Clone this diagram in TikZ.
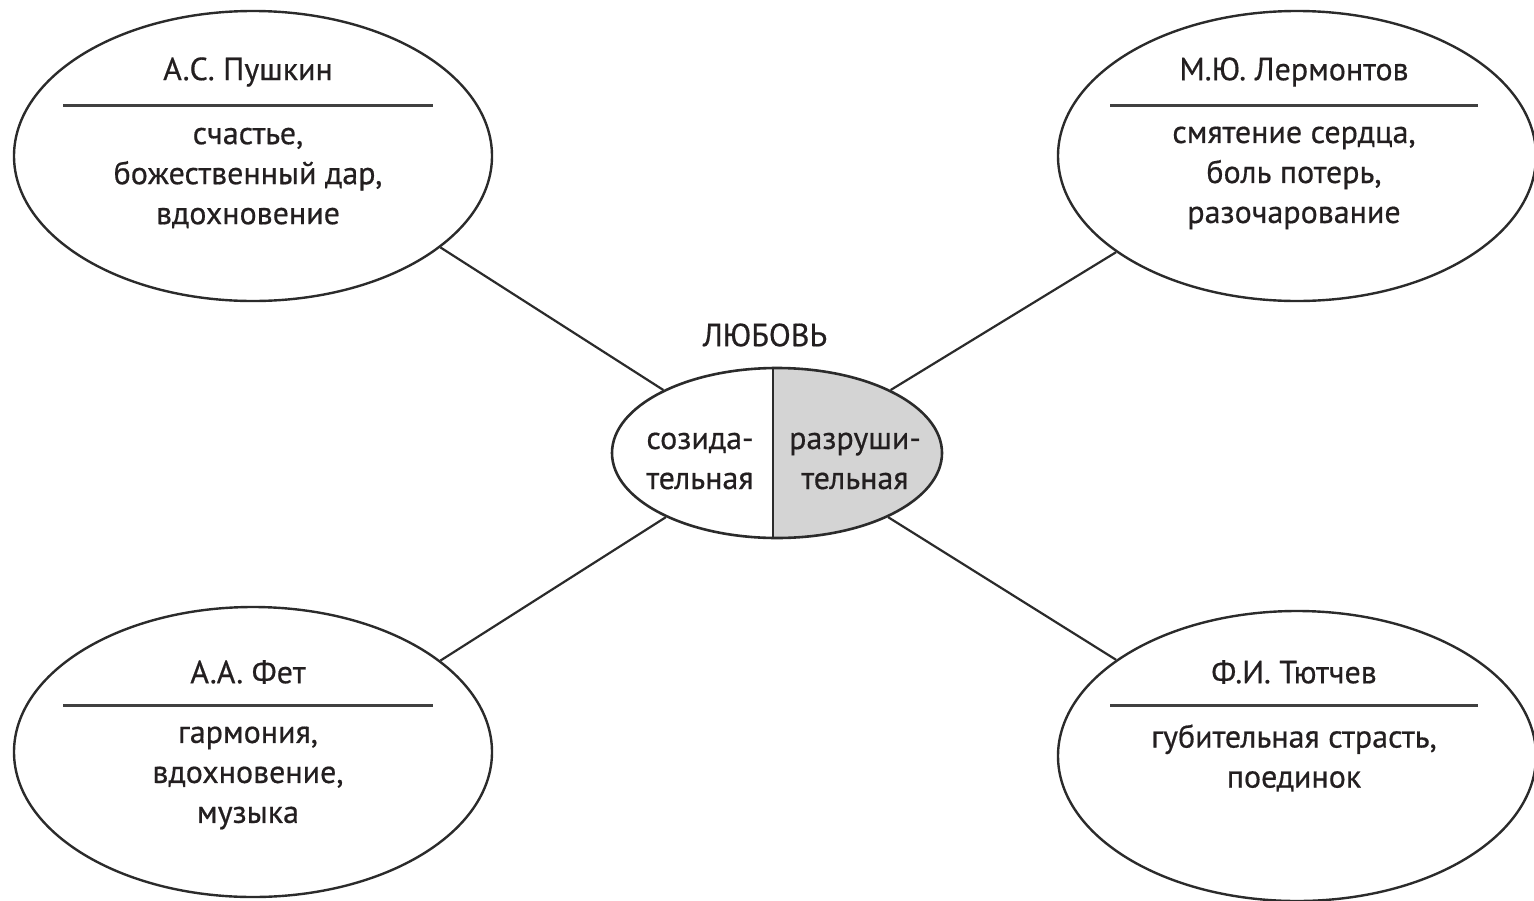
\documentclass[tikz,border=0pt]{standalone}
\usepackage{fontspec}
\setmainfont{PT Sans}[FakeBold=0.5]
\usetikzlibrary{shapes.geometric}
\definecolor{ink}{HTML}{231F20}
\definecolor{edge}{HTML}{2B2B2B}
\definecolor{lovegray}{HTML}{D4D4D4}
\begin{document}
\begin{tikzpicture}[x=1pt,y=-1pt,
  bigell/.style={ellipse, draw=edge, line width=2.4pt, minimum width=478pt, minimum height=290pt, inner sep=0pt},
  title/.style={text=ink, font=\fontsize{32}{40}\selectfont, inner sep=0pt},
  body/.style={text=ink, font=\fontsize{32}{40}\selectfont, align=center, inner sep=0pt},
  sep/.style={draw=edge!90, line width=3pt},
  conn/.style={draw=edge, line width=2.2pt}
]
\useasboundingbox (0,0) rectangle (1534,900);

% outer ellipses
\node[bigell] (pushkin) at (253,156) {};
\node[bigell] (lermontov) at (1297,156) {};
\node[bigell] (fet) at (253,752) {};
\node[bigell] (tyutchev) at (1297,756) {};

% center ellipse
\node[ellipse, draw=edge, line width=2.6pt, minimum width=330pt, minimum height=170pt, inner sep=0pt,
  path picture={\fill[lovegray] ([xshift=-4pt]path picture bounding box.north) rectangle (path picture bounding box.south east);}]
  (love) at (777,453) {};
\draw[draw=edge, line width=2.6pt] ([xshift=-4pt]love.north) -- ([xshift=-4pt]love.south);

\node[title] (lovetitle) at (765,335) {ЛЮБОВЬ};
\node[body] (create) at (700,461) {созида-\\тельная};
\node[body] (destroy) at (855,461) {разруши-\\тельная};

% Pushkin
\node[title] (t1) at (248,72) {А.С. Пушкин};
\coordinate (s1a) at (63,105); \coordinate (s1b) at (433,105);
\draw[sep] (s1a) -- (s1b);
\node[body] (b1) at (248,178) {счастье,\\божественный дар,\\вдохновение};

% Lermontov
\node[title] (t2) at (1294,72) {М.Ю. Лермонтов};
\coordinate (s2a) at (1110,105); \coordinate (s2b) at (1478,105);
\draw[sep] (s2a) -- (s2b);
\node[body] (b2) at (1294,178) {смятение сердца,\\боль потерь,\\разочарование};

% Fet
\node[title] (t3) at (248,672) {А.А. Фет};
\coordinate (s3a) at (63,705); \coordinate (s3b) at (433,705);
\draw[sep] (s3a) -- (s3b);
\node[body] (b3) at (248,778) {гармония,\\вдохновение,\\музыка};

% Tyutchev
\node[title] (t4) at (1294,672) {Ф.И. Тютчев};
\coordinate (s4a) at (1110,705); \coordinate (s4b) at (1478,705);
\draw[sep] (s4a) -- (s4b);
\node[body] (b4) at (1294,758) {губительная страсть,\\поединок};

% connectors
\draw[conn] (pushkin.-26.7) -- (love.151.7);
\draw[conn] (lermontov.-152.9) -- (love.29.1);
\draw[conn] (fet.26.7) -- (love.-150.2);
\draw[conn] (tyutchev.152.4) -- (love.-30);
\end{tikzpicture}
\end{document}
